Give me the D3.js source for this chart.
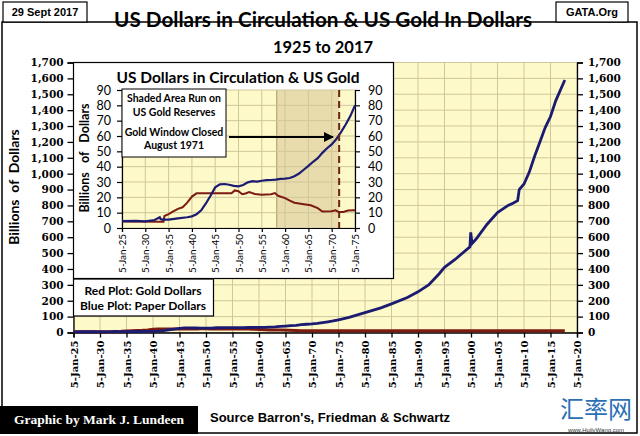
<!DOCTYPE html>
<html><head><meta charset="utf-8">
<script src="https://cdn.jsdelivr.net/npm/d3@7"></script>
<style>html,body{margin:0;padding:0;background:#fff;}svg{display:block;}</style>
</head><body>
<svg id="c" width="640" height="436"></svg>
<script>
// ---- data ----
const blueYears = [1925,1928,1930,1932,1933.1,1933.3,1933.6,1935,1937,1939,1940,1941,1942,1943,1944,1945,1946,1947,1948,1949,1950,1951,1952,1953,1954,1955,1956,1957,1958,1959,1960,1961,1962,1963,1964,1965,1966,1967,1968,1969,1970,1971,1972,1973,1974,1975,1977,1980,1983,1985,1988,1990,1992,1994,1995,1997,1999.8,1999.95,2000.2,2001,2003,2005,2007,2008,2008.8,2009.1,2010,2011,2012,2013,2014,2015,2016,2017.7];
const blueValues = [4.5,4.6,4.3,5.2,7.0,5.8,5.5,5.5,6.3,7.0,7.6,9.0,11.5,16,21,26.5,28.5,28.7,28.2,27.5,27.2,28,29.8,30.5,30.2,30.8,31.2,31.3,31.5,32,32.2,32.6,33.8,35.5,38,40.5,43.2,45.5,49,52,54.5,58,62.5,67.5,73,80,95,125,155,180,220,256,300,370,410,460,540,630,560,590,680,755,800,815,830,900,935,1010,1110,1200,1290,1360,1460,1590];
const redYears = [1925,1933.9,1934.1,1935,1936,1937,1938,1939,1940,1941,1948.5,1949.2,1950,1950.8,1951.5,1952.3,1953.5,1955,1957,1957.8,1958.5,1960,1961,1962,1964,1965.5,1967,1968,1970,1970.8,1971.5,1972.5,1973.5,1975,2017.7];
const redValues = [4.2,4.1,7.8,9.0,10.8,12.5,13.5,16.5,20.5,22.6,22.6,24.5,24.0,22.0,22.5,23.5,22.2,21.7,22,22.8,21,19.5,17.8,16.5,15.5,14.8,13,10.8,11,11.5,10.5,10.4,11.4,11.6,11.1];
const mainYTicks = [0,100,200,300,400,500,600,700,800,900,1000,1100,1200,1300,1400,1500,1600,1700];
const mainXTicks = [1925,1930,1935,1940,1945,1950,1955,1960,1965,1970,1975,1980,1985,1990,1995,2000,2005,2010,2015,2020];
const insetYTicks = [0,10,20,30,40,50,60,70,80,90];
const insetXTicks = [1925,1930,1935,1940,1945,1950,1955,1960,1965,1970,1975];
const shadeStart = 1958.2, goldWindow = 1971.6;

const blue = blueYears.map((y,i)=>[y,blueValues[i]]);
const red = redYears.map((y,i)=>[y,redValues[i]]);
const lbl = y => "5-Jan-" + String(y%100).padStart(2,"0");

const svg = d3.select("#c");
const BLUE="#1b1b72", RED="#7d1a12", BG="#fdf9c8", GRID="#cfc79c";
const sans="Lato, 'Open Sans', sans-serif", serif="'DejaVu Serif', serif";

// outer frame
svg.append("rect").attr("x",2).attr("y",22).attr("width",635).attr("height",411).attr("fill","none").attr("stroke","#000").attr("stroke-width",1.5);

// header boxes
svg.append("rect").attr("x",3).attr("y",2).attr("width",84).attr("height",20).attr("fill","#fff").attr("stroke","#000").attr("stroke-width",1.2);
svg.append("text").attr("x",45).attr("y",16).attr("text-anchor","middle").attr("font-family","'Liberation Sans', Arial").attr("font-weight","bold").attr("font-size",11).text("29 Sept 2017");
svg.append("rect").attr("x",556).attr("y",2).attr("width",72).attr("height",20).attr("fill","#fff").attr("stroke","#000").attr("stroke-width",1.2);
svg.append("text").attr("x",592).attr("y",16).attr("text-anchor","middle").attr("font-family","'Liberation Sans', Arial").attr("font-weight","bold").attr("font-size",11).text("GATA.Org");
svg.append("text").attr("x",323).attr("y",27).attr("text-anchor","middle").attr("font-family",sans).attr("font-weight","bold").attr("font-size",21).attr("textLength",418).attr("lengthAdjust","spacingAndGlyphs").text("US Dollars in Circulation & US Gold In Dollars");
svg.append("text").attr("x",323).attr("y",53).attr("text-anchor","middle").attr("font-family",sans).attr("font-weight","bold").attr("font-size",17).attr("textLength",100).attr("lengthAdjust","spacingAndGlyphs").text("1925 to 2017");

// ---- main chart ----
const x = d3.scaleLinear().domain([1925,2020]).range([73.5,577]);
const y = d3.scaleLinear().domain([0,1700]).range([332.5,62.5]);
svg.append("rect").attr("x",x(1925)).attr("y",y(1700)).attr("width",x(2020)-x(1925)).attr("height",y(0)-y(1700)).attr("fill",BG);
svg.append("g").selectAll("line").data(mainXTicks).join("line").attr("x1",d=>x(d)).attr("x2",d=>x(d)).attr("y1",y(0)).attr("y2",y(1700)).attr("stroke",GRID).attr("stroke-width",1);
svg.append("g").selectAll("line").data(mainYTicks).join("line").attr("x1",x(1925)).attr("x2",x(2020)).attr("y1",d=>y(d)).attr("y2",d=>y(d)).attr("stroke",GRID).attr("stroke-width",1);

const fmt = d3.format(",");
const axL = svg.append("g").attr("transform",`translate(${x(1925)},0)`).call(d3.axisLeft(y).tickValues(mainYTicks).tickFormat(fmt).tickSize(6).tickPadding(4));
const axR = svg.append("g").attr("transform",`translate(${x(2020)},0)`).call(d3.axisRight(y).tickValues(mainYTicks).tickFormat(fmt).tickSize(6).tickPadding(5));
const axB = svg.append("g").attr("transform",`translate(0,${y(0)})`).call(d3.axisBottom(x).tickValues(mainXTicks).tickFormat(lbl).tickSize(5).tickPadding(3));
[axL,axR,axB].forEach(a=>{a.selectAll("text").attr("font-family",serif).attr("font-weight","bold").attr("font-size",10.5).attr("fill","#000");a.selectAll("path,line").attr("stroke","#000").attr("stroke-width",1.3);});
axB.selectAll("text").attr("transform","rotate(-90)").attr("text-anchor","end").attr("x",-8).attr("y",0).attr("dy","0.35em").attr("font-size",10);

svg.append("text").attr("transform","translate(19,187) rotate(-90)").attr("text-anchor","middle").attr("font-family",sans).attr("font-weight","bold").attr("font-size",14).attr("xml:space","preserve").text("Billions  of  Dollars");

const line = d3.line().x(d=>x(d[0])).y(d=>y(d[1]));
svg.append("path").datum(red).attr("d",line).attr("fill","none").attr("stroke",RED).attr("stroke-width",3);
svg.append("path").datum(blue).attr("d",line).attr("fill","none").attr("stroke",BLUE).attr("stroke-width",2.8);

// legend box
svg.append("rect").attr("x",73.5).attr("y",279).attr("width",140).attr("height",37).attr("fill","#fff").attr("stroke","#000").attr("stroke-width",1.2);
svg.append("text").attr("x",143).attr("y",295).attr("text-anchor","middle").attr("font-family",sans).attr("font-weight","bold").attr("font-size",12).text("Red Plot: Gold Dollars");
svg.append("text").attr("x",143).attr("y",310).attr("text-anchor","middle").attr("font-family",sans).attr("font-weight","bold").attr("font-size",12).text("Blue Plot: Paper Dollars");

// ---- inset ----
svg.append("rect").attr("x",73.5).attr("y",62.5).attr("width",320).attr("height",216).attr("fill","#fff").attr("stroke","#000").attr("stroke-width",1.2);
const xi = d3.scaleLinear().domain([1925,1975]).range([122,355]);
const yi = d3.scaleLinear().domain([0,90]).range([228,90]);
svg.append("rect").attr("x",xi(1925)).attr("y",yi(90)).attr("width",xi(1975)-xi(1925)).attr("height",yi(0)-yi(90)).attr("fill",BG);
svg.append("rect").attr("x",xi(shadeStart)).attr("y",yi(90)).attr("width",xi(goldWindow)-xi(shadeStart)).attr("height",yi(0)-yi(90)).attr("fill","#e8dbac");
svg.append("line").attr("x1",xi(shadeStart)).attr("x2",xi(shadeStart)).attr("y1",yi(90)).attr("y2",yi(0)).attr("stroke","#b5a678").attr("stroke-width",1.2);
svg.append("g").selectAll("line").data(insetXTicks).join("line").attr("x1",d=>xi(d)).attr("x2",d=>xi(d)).attr("y1",yi(0)).attr("y2",yi(90)).attr("stroke",GRID);
svg.append("g").selectAll("line").data(insetYTicks).join("line").attr("x1",xi(1925)).attr("x2",xi(1975)).attr("y1",d=>yi(d)).attr("y2",d=>yi(d)).attr("stroke",GRID);
const iL = svg.append("g").attr("transform",`translate(${xi(1925)},0)`).call(d3.axisLeft(yi).tickValues(insetYTicks).tickSize(5).tickPadding(6));
const iR = svg.append("g").attr("transform",`translate(${xi(1975)},0)`).call(d3.axisRight(yi).tickValues(insetYTicks).tickSize(5).tickPadding(8));
const iB = svg.append("g").attr("transform",`translate(0,${yi(0)})`).call(d3.axisBottom(xi).tickValues(insetXTicks).tickFormat(lbl).tickSize(4).tickPadding(3));
[iL,iR,iB].forEach(a=>{a.selectAll("text").attr("font-family",sans).attr("font-size",12.5).attr("fill","#000");a.selectAll("path,line").attr("stroke","#000").attr("stroke-width",1.2);});
iB.selectAll("text").attr("transform","rotate(-90)").attr("text-anchor","end").attr("x",-6).attr("y",0).attr("dy","0.35em").attr("font-size",10);
svg.append("text").attr("transform","translate(89,158) rotate(-90)").attr("text-anchor","middle").attr("font-family",sans).attr("font-weight","bold").attr("font-size",12.5).attr("xml:space","preserve").text("Billions   of   Dollars");
svg.append("text").attr("x",238).attr("y",83).attr("text-anchor","middle").attr("font-family",sans).attr("font-weight","bold").attr("font-size",16).attr("textLength",243).attr("lengthAdjust","spacingAndGlyphs").text("US Dollars in Circulation & US Gold");

const li = d3.line().x(d=>xi(d[0])).y(d=>yi(d[1]));
svg.append("path").datum(red.filter(d=>d[0]<=1975)).attr("d",li).attr("fill","none").attr("stroke",RED).attr("stroke-width",2);
svg.append("path").datum(blue.filter(d=>d[0]<=1975)).attr("d",li).attr("fill","none").attr("stroke",BLUE).attr("stroke-width",2.2);
svg.append("line").attr("x1",xi(goldWindow)).attr("x2",xi(goldWindow)).attr("y1",yi(90)).attr("y2",yi(0)).attr("stroke","#6b2410").attr("stroke-width",2).attr("stroke-dasharray","7,4");

// note box + arrow
svg.append("rect").attr("x",122).attr("y",89).attr("width",104).attr("height",68).attr("fill","#fff").attr("stroke","#000").attr("stroke-width",1);
const notes=[["Shaded Area Run on",102],["US Gold Reserves",116],["Gold Window Closed",136],["August 1971",149]];
notes.forEach(n=>svg.append("text").attr("x",174).attr("y",n[1]).attr("text-anchor","middle").attr("font-family",sans).attr("font-weight","bold").attr("font-size",10.5).text(n[0]));
svg.append("defs").append("marker").attr("id","ah").attr("viewBox","0 0 10 10").attr("refX",9).attr("refY",5).attr("markerWidth",5).attr("markerHeight",5).attr("orient","auto").append("path").attr("d","M0,0L10,5L0,10z").attr("fill","#000");
svg.append("line").attr("x1",229).attr("x2",333).attr("y1",137).attr("y2",137).attr("stroke","#000").attr("stroke-width",2).attr("marker-end","url(#ah)");

// ---- footer ----
svg.append("rect").attr("x",0).attr("y",406).attr("width",198).attr("height",28).attr("fill","#000");
svg.append("text").attr("x",99).attr("y",424).attr("text-anchor","middle").attr("font-family","'Liberation Serif', serif").attr("font-weight","bold").attr("font-size",13.5).attr("fill","#fff").text("Graphic by Mark J. Lundeen");
svg.append("text").attr("x",210).attr("y",422).attr("font-family","'Liberation Sans', Arial").attr("font-weight","bold").attr("font-size",13).text("Source Barron's, Friedman & Schwartz");
svg.append("text").attr("x",596).attr("y",418).attr("text-anchor","middle").attr("font-family","'Noto Sans CJK SC'").attr("font-size",24).attr("fill","#2b6fb5").text("汇率网");
svg.append("text").attr("x",596).attr("y",432).attr("text-anchor","middle").attr("font-family","'Liberation Sans', Arial").attr("font-size",6).attr("fill","#333").text("www.HuilvWang.com");
</script>
</body></html>
